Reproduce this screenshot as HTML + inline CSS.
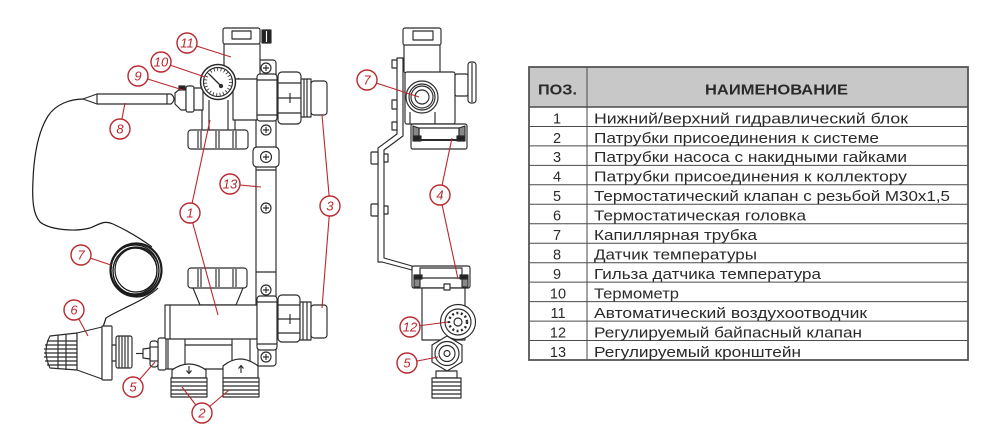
<!DOCTYPE html>
<html><head><meta charset="utf-8"><style>
html,body{margin:0;padding:0;background:#fff;}
svg{display:block;}
</style></head><body>
<svg width="986" height="442" viewBox="0 0 986 442" xmlns="http://www.w3.org/2000/svg">
<rect width="986" height="442" fill="#fff"/>

<!-- ================= LEFT DRAWING ================= -->
<g fill="none" stroke="#1a1a1a" stroke-width="1.2">
  <path d="M84,99 C70,99 56,104 48,116 C38,132 34,155 33,180 C32,200 33,214 40,222 C50,230 75,232 90,228 C100,224 104,220 113,224 C126,230 140,238 152,247"/>
  <path d="M158,288 C146,300 118,310 106,318 L103,327"/>
  <ellipse cx="136" cy="270" rx="26" ry="27"/>
  <ellipse cx="136" cy="270" rx="25" ry="26"/>
  <ellipse cx="135" cy="270" rx="24" ry="25"/>
  <ellipse cx="136" cy="271" rx="23" ry="24"/>
  <ellipse cx="135" cy="271" rx="22" ry="23"/>
  <ellipse cx="136" cy="270" rx="21" ry="22"/>
</g>

<g fill="#fff" stroke="#2a2a2a" stroke-width="1.15" stroke-linejoin="round">
  <!-- bracket 13 -->
  <rect x="256" y="60" width="20" height="306" rx="3"/>
  <rect x="253" y="147" width="26" height="20" rx="4"/>
  <line x1="256" y1="170" x2="276" y2="170"/>
  <line x1="256" y1="272" x2="276" y2="272"/>

  <!-- air vent 11 -->
  <rect x="224" y="43" width="36" height="37" rx="2"/>
  <rect x="223" y="28" width="37" height="16" rx="2"/>
  <rect x="232" y="31" width="19" height="8"/>
  <rect x="262" y="30" width="9" height="13" fill="#222"/>
  <line x1="266.5" y1="31" x2="266.5" y2="42" stroke="#fff"/>
  <path d="M238,78 Q248,88 258,80" />

  <!-- upper body -->
  <rect x="202" y="78" width="33" height="54"/>
  <rect x="233" y="79" width="24" height="41"/>
  <line x1="209" y1="100" x2="209" y2="130"/>
  <line x1="228" y1="100" x2="228" y2="130"/>
  <rect x="188" y="130" width="60" height="19" rx="3"/>
  <line x1="198" y1="131" x2="198" y2="148"/>
  <line x1="201" y1="131" x2="201" y2="148"/>
  <line x1="216" y1="131" x2="216" y2="148"/>
  <line x1="219" y1="131" x2="219" y2="148"/>
  <line x1="233" y1="131" x2="233" y2="148"/>
  <line x1="236" y1="131" x2="236" y2="148"/>

  <!-- sensor 8 -->
  <path d="M83,99 L97,94 L171,94 Q177,99 171,104 L97,104 Z"/>
  <line x1="97" y1="94" x2="97" y2="104"/>
  <line x1="167" y1="94" x2="167" y2="104"/>
  <path d="M175,93 L181,88 L186,88 L186,110 L181,110 L175,104 Z"/>
  <rect x="186" y="86" width="8" height="26" rx="2"/>
  <rect x="194" y="88" width="9" height="22"/>
  <rect x="179" y="86" width="6" height="4" fill="#222"/>

  <!-- thermometer 10 -->
  <circle cx="218" cy="82" r="17.5" stroke-width="1.5"/>
  <circle cx="218" cy="82" r="14.5"/>
  <circle cx="218" cy="82" r="12.5" fill="none" stroke-width="3" stroke-dasharray="0.8 2.6"/>
  <line x1="209" y1="74" x2="221" y2="86" stroke-width="1.3"/>
  <circle cx="221" cy="86" r="1.6" fill="#333"/>

  <!-- screws -->
  <g>
    <circle cx="266" cy="68" r="5"/><path d="M263,68h6M266,65v6"/>
    <circle cx="266" cy="130" r="5"/><path d="M263,130h6M266,127v6"/>
    <circle cx="266" cy="157" r="5.5"/><path d="M263,157h6M266,154v6"/>
    <circle cx="266" cy="208" r="5"/><path d="M263,208h6M266,205v6"/>
  </g>

  <!-- upper coupling / union / pipe end -->
  <rect x="257" y="74" width="20" height="47" rx="3"/>
  <line x1="257" y1="80" x2="277" y2="80"/>
  <line x1="257" y1="115" x2="277" y2="115"/>
  <rect x="278" y="72" width="23" height="52" rx="4"/>
  <line x1="278" y1="83" x2="301" y2="83"/>
  <line x1="278" y1="98" x2="301" y2="98"/>
  <line x1="278" y1="113" x2="301" y2="113"/>
  <line x1="290" y1="93" x2="290" y2="103"/>
  <rect x="301" y="79" width="10" height="38"/>
  <line x1="304" y1="79" x2="304" y2="117"/>
  <line x1="307" y1="79" x2="307" y2="117"/>
  <rect x="311" y="81" width="16" height="34" rx="3"/>

  <!-- lower nut + neck -->
  <path d="M193,288 L200,305 L236,305 L243,288"/>
  <rect x="188" y="268" width="59" height="20" rx="3"/>
  <line x1="198" y1="269" x2="198" y2="287"/>
  <line x1="201" y1="269" x2="201" y2="287"/>
  <line x1="216" y1="269" x2="216" y2="287"/>
  <line x1="219" y1="269" x2="219" y2="287"/>
  <line x1="233" y1="269" x2="233" y2="287"/>
  <line x1="236" y1="269" x2="236" y2="287"/>

  <rect x="165" y="305" width="92" height="35"/>
  <line x1="170" y1="305" x2="170" y2="340"/>

  <rect x="163" y="339" width="95" height="30" rx="2"/>
  <line x1="168" y1="339" x2="168" y2="369"/>
  <line x1="185" y1="339" x2="185" y2="369"/>
  <line x1="232" y1="339" x2="232" y2="369"/>
  <line x1="250" y1="339" x2="250" y2="369"/>
  <line x1="185" y1="345" x2="232" y2="345"/>

  <!-- outlets 2 -->
  <path d="M172,378 L172,370 Q189,358 206,370 L206,378 Z"/>
  <rect x="171" y="378" width="36" height="19"/>
  <path d="M171,382h36M171,386h36M171,390h36M171,394h36"/>
  <path d="M223,378 L223,366 Q240,352 258,366 L258,378 Z"/>
  <rect x="223" y="378" width="36" height="19"/>
  <path d="M223,382h36M223,386h36M223,390h36M223,394h36"/>
  <path d="M189,366v7M186.5,370.5l2.5,3l2.5,-3" fill="none"/>
  <path d="M241,373v-7M238.5,368.5l2.5,-3l2.5,3" fill="none"/>

  <!-- lower coupling / union / pipe end -->
  <rect x="257" y="296" width="20" height="54" rx="3"/>
  <line x1="257" y1="302" x2="277" y2="302"/>
  <line x1="257" y1="344" x2="277" y2="344"/>
  <circle cx="266" cy="290" r="5"/><path d="M263,290h6M266,287v6"/>
  <circle cx="266" cy="357" r="5"/><path d="M263,357h6M266,354v6"/>
  <rect x="278" y="295" width="22" height="47" rx="4"/>
  <line x1="278" y1="305" x2="300" y2="305"/>
  <line x1="278" y1="319" x2="300" y2="319"/>
  <line x1="278" y1="333" x2="300" y2="333"/>
  <line x1="290" y1="314" x2="290" y2="324"/>
  <rect x="300" y="302" width="11" height="38"/>
  <line x1="303" y1="302" x2="303" y2="340"/>
  <line x1="307" y1="302" x2="307" y2="340"/>
  <rect x="311" y="305" width="16" height="33" rx="3"/>

  <!-- valve 5 -->
  <rect x="158" y="338" width="8" height="32" rx="2"/>
  <rect x="150" y="341" width="8" height="26" rx="3"/>
  <line x1="150" y1="347" x2="158" y2="347"/>
  <line x1="150" y1="361" x2="158" y2="361"/>
  <path d="M143,349 L150,348 L150,359 L143,358 Z"/>
  <line x1="136" y1="353.5" x2="143" y2="353.5"/>

  <!-- thermostatic head 6 -->
  <path d="M77,333 L50,336 Q42,351 50,368 L77,370 Z"/>
  <path d="M47,341h30M45,345h32M44,349h33M44,353h33M44,357h33M45,361h32M47,365h30" fill="none"/>
  <line x1="58" y1="335" x2="58" y2="369"/>
  <line x1="66" y1="334" x2="66" y2="370"/>
  <path d="M77,333 L102,327 L102,379 L77,370 Z"/>
  <rect x="102" y="326" width="10" height="54" rx="1"/>
  <rect x="112" y="345" width="4" height="16"/>
  <rect x="116" y="336" width="16" height="32" rx="2"/>
  <path d="M119,336v32M122,336v32M125,336v32M128,336v32" fill="none"/>
</g>

<!-- ================= MIDDLE DRAWING ================= -->
<g fill="#fff" stroke="#2a2a2a" stroke-width="1.15" stroke-linejoin="round">
  <path d="M397,58 L403,58 L403,136 L384,150 L384,258 L412,266 L412,270 L382,262 L378,262 L378,148 L397,134 Z"/>
  <rect x="392" y="60" width="5" height="8"/>
  <rect x="392" y="100" width="5" height="9"/>
  <rect x="392" y="122" width="5" height="8"/>
  <rect x="371" y="152" width="7" height="12" rx="1"/>
  <rect x="384" y="154" width="4" height="8"/>
  <rect x="371" y="204" width="7" height="12" rx="1"/>
  <rect x="384" y="206" width="4" height="8"/>

  <rect x="404" y="44" width="36" height="29" rx="2"/>
  <rect x="403" y="28" width="38" height="17" rx="2"/>
  <rect x="413" y="31" width="20" height="9"/>
  <rect x="405" y="72" width="50" height="52" rx="2"/>
  <rect x="455" y="74" width="13" height="22" rx="2"/>
  <rect x="468" y="62" width="8" height="41" rx="3"/>
  <line x1="472" y1="63" x2="472" y2="102"/>
  <circle cx="422" cy="97" r="16"/>
  <circle cx="422" cy="97" r="13"/>
  <circle cx="422" cy="97" r="11"/>
  <circle cx="422" cy="97" r="7"/>
  <path d="M410,112 L410,124 M435,112 L435,124"/>

  <rect x="411" y="124" width="56" height="25" rx="2"/>
  <rect x="419" y="128" width="40" height="12"/>
  <rect x="413" y="136" width="8" height="5" fill="#222"/>
  <rect x="457" y="136" width="8" height="5" fill="#222"/>
  <line x1="419" y1="140" x2="459" y2="140" stroke-width="2"/>
  <path d="M413,126 L419,128 L419,136 L413,136 Z" fill="#888"/>
  <path d="M465,126 L459,128 L459,136 L465,136 Z" fill="#888"/>

  <rect x="412" y="266" width="58" height="22" rx="2"/>
  <rect x="420" y="268" width="42" height="10"/>
  <rect x="414" y="275" width="8" height="4" fill="#222"/>
  <rect x="460" y="275" width="8" height="4" fill="#222"/>
  <path d="M414,279 L420,279 L420,287 L414,287 Z" fill="#888"/>
  <path d="M468,279 L462,279 L462,287 L468,287 Z" fill="#888"/>
  <rect x="422" y="288" width="43" height="52"/>
  <rect x="444" y="284" width="6" height="6"/>
  <circle cx="458" cy="322" r="17.5"/>
  <circle cx="458" cy="322" r="13"/>
  <circle cx="458" cy="322" r="9" fill="none" stroke-width="2.5" stroke-dasharray="2 2.5"/>
  <circle cx="458" cy="322" r="4"/>
  <polygon points="447,336 462,345 462,362 447,371 432,362 432,345"/>
  <circle cx="447" cy="353.5" r="12"/>
  <circle cx="447" cy="353.5" r="8"/>
  <circle cx="447" cy="353.5" r="3"/>
  <rect x="436" y="371" width="21" height="7"/>
  <rect x="432" y="378" width="29" height="20"/>
  <path d="M432,382h29M432,386h29M432,390h29M432,394h29"/>
</g>

<!-- ================= LABELS ================= -->
<g stroke="#b8282e" stroke-width="1.1" fill="none">
  <line x1="187" y1="43" x2="231" y2="57"/>
  <line x1="161" y1="62" x2="205" y2="77"/>
  <line x1="138" y1="76" x2="183" y2="90"/>
  <line x1="120" y1="129" x2="125" y2="103"/>
  <line x1="230" y1="184" x2="261" y2="187"/>
  <line x1="330" y1="206" x2="322" y2="115"/>
  <line x1="330" y1="206" x2="322" y2="308"/>
  <line x1="190" y1="213" x2="210" y2="120"/>
  <line x1="190" y1="213" x2="218" y2="315"/>
  <line x1="202" y1="413" x2="182" y2="387"/>
  <line x1="202" y1="413" x2="229" y2="390"/>
  <line x1="133" y1="387" x2="155" y2="362"/>
  <line x1="74" y1="310" x2="88" y2="336"/>
  <line x1="81" y1="255" x2="111" y2="265"/>
  <line x1="367" y1="80" x2="419" y2="97"/>
  <line x1="440" y1="195" x2="452" y2="138"/>
  <line x1="440" y1="195" x2="458" y2="279"/>
  <line x1="410" y1="327" x2="448" y2="322"/>
  <line x1="407" y1="363" x2="438" y2="357"/>
</g>
<g stroke="#b8282e" stroke-width="1.4" fill="#fff">
  <circle cx="187" cy="43" r="10"/>
  <circle cx="161" cy="62" r="10"/>
  <circle cx="138" cy="76" r="10"/>
  <circle cx="120" cy="129" r="10"/>
  <circle cx="230" cy="184" r="10"/>
  <circle cx="330" cy="206" r="10"/>
  <circle cx="190" cy="213" r="10"/>
  <circle cx="202" cy="413" r="10"/>
  <circle cx="133" cy="387" r="10"/>
  <circle cx="74" cy="310" r="10"/>
  <circle cx="81" cy="255" r="10"/>
  <circle cx="367" cy="80" r="10"/>
  <circle cx="440" cy="195" r="10"/>
  <circle cx="410" cy="327" r="10"/>
  <circle cx="407" cy="363" r="10"/>
</g>
<g fill="#b8282e" font-family="Liberation Sans, sans-serif" font-style="italic" font-size="13" text-anchor="middle">
  <text x="187" y="47.7">11</text>
  <text x="161" y="66.7">10</text>
  <text x="138" y="80.7">9</text>
  <text x="120" y="133.7">8</text>
  <text x="230" y="188.7">13</text>
  <text x="330" y="210.7">3</text>
  <text x="190" y="217.7">1</text>
  <text x="202" y="417.7">2</text>
  <text x="133" y="391.7">5</text>
  <text x="74" y="314.7">6</text>
  <text x="81" y="259.7">7</text>
  <text x="367" y="84.7">7</text>
  <text x="440" y="199.7">4</text>
  <text x="410" y="331.7">12</text>
  <text x="407" y="367.7">5</text>
</g>

<!-- ================= TABLE ================= -->
<rect x="529" y="67" width="439" height="40" fill="#c8c8c8"/>
<g stroke="#4a4a4a" stroke-width="1">
  <line x1="529" y1="126.5" x2="968" y2="126.5"/>
  <line x1="529" y1="145.9" x2="968" y2="145.9"/>
  <line x1="529" y1="165.4" x2="968" y2="165.4"/>
  <line x1="529" y1="184.8" x2="968" y2="184.8"/>
  <line x1="529" y1="204.3" x2="968" y2="204.3"/>
  <line x1="529" y1="223.8" x2="968" y2="223.8"/>
  <line x1="529" y1="243.2" x2="968" y2="243.2"/>
  <line x1="529" y1="262.7" x2="968" y2="262.7"/>
  <line x1="529" y1="282.1" x2="968" y2="282.1"/>
  <line x1="529" y1="301.6" x2="968" y2="301.6"/>
  <line x1="529" y1="321.1" x2="968" y2="321.1"/>
  <line x1="529" y1="340.5" x2="968" y2="340.5"/>
  <line x1="587" y1="67" x2="587" y2="360"/>
</g>
<line x1="529" y1="107" x2="968" y2="107" stroke="#4a4a4a" stroke-width="1.6"/>
<rect x="529" y="67" width="439" height="293" fill="none" stroke="#555" stroke-width="1.8"/>

<g font-family="Liberation Sans, sans-serif" fill="#2a2a2a">
  <text x="538" y="94.5" font-weight="bold" font-size="15" textLength="39" lengthAdjust="spacingAndGlyphs">ПОЗ.</text>
  <text x="705" y="94.5" font-weight="bold" font-size="15" textLength="143" lengthAdjust="spacingAndGlyphs">НАИМЕНОВАНИЕ</text>
</g>
<g font-family="Liberation Sans, sans-serif" font-size="14.5" fill="#2a2a2a" text-anchor="middle">
  <text x="557" y="123.3">1</text>
  <text x="557" y="142.8">2</text>
  <text x="557" y="162.2">3</text>
  <text x="557" y="181.7">4</text>
  <text x="557" y="201.1">5</text>
  <text x="557" y="220.6">6</text>
  <text x="557" y="240.1">7</text>
  <text x="557" y="259.5">8</text>
  <text x="557" y="279">9</text>
  <text x="558" y="298.4">10</text>
  <text x="558" y="317.9">11</text>
  <text x="558" y="337.4">12</text>
  <text x="558" y="356.8">13</text>
</g>
<g font-family="Liberation Sans, sans-serif" font-size="14.5" fill="#2a2a2a">
  <text x="594" y="123.3" textLength="314" lengthAdjust="spacingAndGlyphs">Нижний/верхний гидравлический блок</text>
  <text x="594" y="142.8" textLength="285" lengthAdjust="spacingAndGlyphs">Патрубки присоединения к системе</text>
  <text x="594" y="162.2" textLength="313" lengthAdjust="spacingAndGlyphs">Патрубки насоса с накидными гайками</text>
  <text x="594" y="181.7" textLength="313" lengthAdjust="spacingAndGlyphs">Патрубки присоединения к коллектору</text>
  <text x="594" y="201.1" textLength="356" lengthAdjust="spacingAndGlyphs">Термостатический клапан с резьбой M30x1,5</text>
  <text x="594" y="220.6" textLength="212" lengthAdjust="spacingAndGlyphs">Термостатическая головка</text>
  <text x="594" y="240.1" textLength="163" lengthAdjust="spacingAndGlyphs">Капиллярная трубка</text>
  <text x="594" y="259.5" textLength="163" lengthAdjust="spacingAndGlyphs">Датчик температуры</text>
  <text x="594" y="279" textLength="227" lengthAdjust="spacingAndGlyphs">Гильза датчика температура</text>
  <text x="594" y="298.4" textLength="85" lengthAdjust="spacingAndGlyphs">Термометр</text>
  <text x="594" y="317.9" textLength="273" lengthAdjust="spacingAndGlyphs">Автоматический воздухоотводчик</text>
  <text x="594" y="337.4" textLength="268" lengthAdjust="spacingAndGlyphs">Регулируемый байпасный клапан</text>
  <text x="594" y="356.8" textLength="207" lengthAdjust="spacingAndGlyphs">Регулируемый кронштейн</text>
</g>
</svg>
</body></html>
